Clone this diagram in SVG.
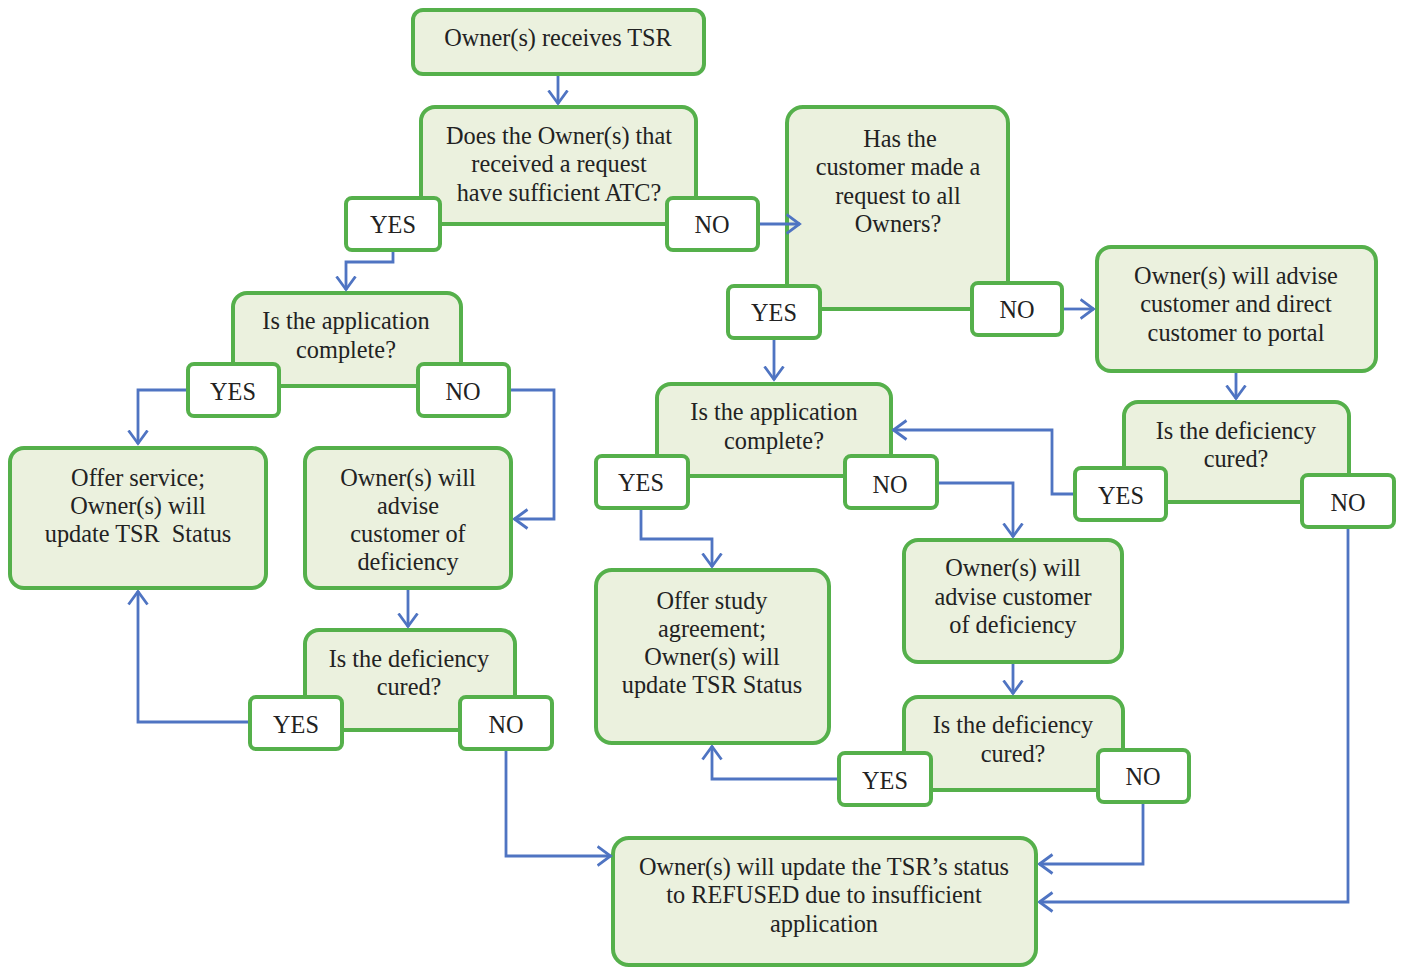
<svg xmlns="http://www.w3.org/2000/svg" width="1403" height="968" viewBox="0 0 1403 968">
<defs>
<style>
.n{fill:#ebf1de;stroke:#55b04b;stroke-width:4}
.l{fill:#ffffff;stroke:#55b04b;stroke-width:4}
.t{font-family:"Liberation Serif","Times New Roman",serif;font-size:24.3px;fill:#222222;text-anchor:middle}
.c{fill:none;stroke:#4f74c2;stroke-width:2.8;marker-end:url(#a)}
</style>
<marker id="a" viewBox="0 0 16 22" refX="14.5" refY="11" markerWidth="16" markerHeight="22" markerUnits="userSpaceOnUse" orient="auto">
<path d="M1,1.5 L14,11 L1,20.5" fill="none" stroke="#4f74c2" stroke-width="2.8"/>
</marker>
</defs>
<rect width="1403" height="968" fill="#ffffff"/>
<g id="n1"><rect class="n" x="413" y="10" width="291" height="64" rx="10"/><text class="t" x="558" y="46">Owner(s) receives TSR</text></g>
<g id="n2"><rect class="n" x="421" y="107" width="275" height="117" rx="14"/>
<text class="t" x="559" y="144">Does the Owner(s) that</text><text class="t" x="559" y="172">received a request</text><text class="t" x="559" y="201">have sufficient ATC?</text>
<rect class="l" x="346" y="198" width="94" height="52" rx="6"/><text class="t" x="393" y="233">YES</text>
<rect class="l" x="667" y="198" width="91" height="52" rx="6"/><text class="t" x="712" y="233">NO</text></g>
<g id="n3"><rect class="n" x="787" y="107" width="221" height="202" rx="16"/>
<text class="t" x="900" y="147">Has the</text><text class="t" x="898" y="175">customer made a</text><text class="t" x="898" y="204">request to all</text><text class="t" x="898" y="232">Owners?</text>
<rect class="l" x="728" y="286" width="92" height="52" rx="6"/><text class="t" x="774" y="321">YES</text>
<rect class="l" x="972" y="283" width="90" height="52" rx="6"/><text class="t" x="1017" y="318">NO</text></g>
<g id="n4"><rect class="n" x="1097" y="247" width="279" height="124" rx="14"/>
<text class="t" x="1236" y="284">Owner(s) will advise</text><text class="t" x="1236" y="312">customer and direct</text><text class="t" x="1236" y="341">customer to portal</text></g>
<g id="n5"><rect class="n" x="1124" y="402" width="225" height="100" rx="14"/>
<text class="t" x="1236" y="439">Is the deficiency</text><text class="t" x="1236" y="467">cured?</text>
<rect class="l" x="1075" y="468" width="91" height="52" rx="6"/><text class="t" x="1121" y="504">YES</text>
<rect class="l" x="1302" y="475" width="92" height="52" rx="6"/><text class="t" x="1348" y="511">NO</text></g>
<g id="n6"><rect class="n" x="233" y="293" width="228" height="93" rx="14"/>
<text class="t" x="346" y="329">Is the application</text><text class="t" x="346" y="358">complete?</text>
<rect class="l" x="188" y="364" width="91" height="52" rx="6"/><text class="t" x="233" y="400">YES</text>
<rect class="l" x="418" y="364" width="91" height="52" rx="6"/><text class="t" x="463" y="400">NO</text></g>
<g id="n7"><rect class="n" x="10" y="448" width="256" height="140" rx="14"/>
<text class="t" x="138" y="486">Offer service;</text><text class="t" x="138" y="514">Owner(s) will</text><text class="t" x="138" y="542" style="white-space:pre">update TSR  Status</text></g>
<g id="n8"><rect class="n" x="305" y="448" width="206" height="140" rx="14"/>
<text class="t" x="408" y="486">Owner(s) will</text><text class="t" x="408" y="514">advise</text><text class="t" x="408" y="542">customer of</text><text class="t" x="408" y="570">deficiency</text></g>
<g id="n9"><rect class="n" x="305" y="630" width="210" height="100" rx="14"/>
<text class="t" x="409" y="667">Is the deficiency</text><text class="t" x="409" y="695">cured?</text>
<rect class="l" x="250" y="697" width="92" height="52" rx="6"/><text class="t" x="296" y="733">YES</text>
<rect class="l" x="460" y="697" width="92" height="52" rx="6"/><text class="t" x="506" y="733">NO</text></g>
<g id="n10"><rect class="n" x="657" y="384" width="234" height="92" rx="14"/>
<text class="t" x="774" y="420">Is the application</text><text class="t" x="774" y="449">complete?</text>
<rect class="l" x="596" y="456" width="92" height="52" rx="6"/><text class="t" x="641" y="491">YES</text>
<rect class="l" x="845" y="456" width="92" height="52" rx="6"/><text class="t" x="890" y="493">NO</text></g>
<g id="n11"><rect class="n" x="596" y="570" width="233" height="173" rx="16"/>
<text class="t" x="712" y="609">Offer study</text><text class="t" x="712" y="637">agreement;</text><text class="t" x="712" y="665">Owner(s) will</text><text class="t" x="712" y="693">update TSR Status</text></g>
<g id="n12"><rect class="n" x="904" y="540" width="218" height="122" rx="14"/>
<text class="t" x="1013" y="576">Owner(s) will</text><text class="t" x="1013" y="605">advise customer</text><text class="t" x="1013" y="633">of deficiency</text></g>
<g id="n13"><rect class="n" x="904" y="697" width="219" height="93" rx="14"/>
<text class="t" x="1013" y="733">Is the deficiency</text><text class="t" x="1013" y="762">cured?</text>
<rect class="l" x="839" y="753" width="92" height="52" rx="6"/><text class="t" x="885" y="789">YES</text>
<rect class="l" x="1098" y="750" width="91" height="52" rx="6"/><text class="t" x="1143" y="785">NO</text></g>
<g id="n14"><rect class="n" x="613" y="838" width="423" height="127" rx="16"/>
<text class="t" x="824" y="875">Owner(s) will update the TSR’s status</text><text class="t" x="824" y="903">to REFUSED due to insufficient</text><text class="t" x="824" y="932">application</text></g>
<g id="connectors">
<path class="c" d="M558,76 V104"/>
<path class="c" d="M393,252 V262 H346 V290"/>
<path class="c" d="M760,224 H800"/>
<path class="c" d="M774,340 V380"/>
<path class="c" d="M1064,309 H1094"/>
<path class="c" d="M1236,373 V399"/>
<path class="c" d="M1073,494 H1052 V430 H893"/>
<path class="c" d="M1348,529 V902 H1039"/>
<path class="c" d="M186,390 H138 V444"/>
<path class="c" d="M511,390 H554 V519 H514"/>
<path class="c" d="M408,590 V627"/>
<path class="c" d="M248,722 H138 V591"/>
<path class="c" d="M506,751 V856 H611"/>
<path class="c" d="M641,510 V539 H712 V567"/>
<path class="c" d="M939,483 H1013 V537"/>
<path class="c" d="M1013,664 V694"/>
<path class="c" d="M837,779 H712 V746"/>
<path class="c" d="M1143,804 V864 H1039"/>
</g>
</svg>
